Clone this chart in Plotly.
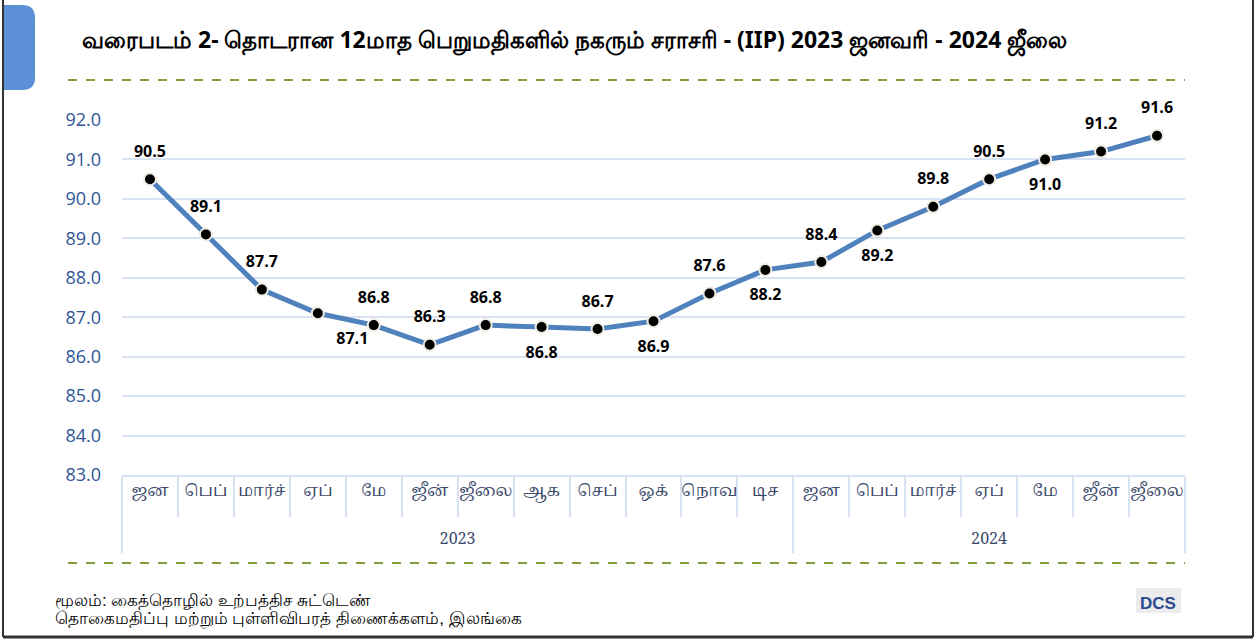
import plotly.graph_objects as go

years = ["2023"] * 12 + ["2024"] * 7
months = ["ஜன", "பெப்", "மார்ச்", "ஏப்", "மே", "ஜீன்", "ஜீலை", "ஆக", "செப்", "ஒக்", "நொவ", "டிச",
          "ஜன", "பெப்", "மார்ச்", "ஏப்", "மே", "ஜீன்", "ஜீலை"]
values = [90.5, 89.1, 87.7, 87.1, 86.8, 86.3, 86.8, 86.75, 86.7, 86.9, 87.6, 88.2,
          88.4, 89.2, 89.8, 90.5, 91.0, 91.2, 91.6]
labels = ["90.5", "89.1", "87.7", "87.1", "86.8", "86.3", "86.8", "86.8", "86.7", "86.9", "87.6", "88.2",
          "88.4", "89.2", "89.8", "90.5", "91.0", "91.2", "91.6"]
label_pos = ["top center", "top center", "top center", "bottom right", "top center", "top center",
             "top center", "bottom center", "top center", "bottom center", "top center", "bottom center",
             "top center", "bottom center", "top center", "top center", "bottom center", "top center",
             "top center"]
y_ticks = [83.0, 84.0, 85.0, 86.0, 87.0, 88.0, 89.0, 90.0, 91.0, 92.0]

title = "வரைபடம் 2- தொடரான 12மாத பெறுமதிகளில் நகரும் சராசரி - (IIP) 2023 ஜனவரி - 2024 ஜீலை"
source1 = "மூலம்: கைத்தொழில் உற்பத்திச சுட்டெண்"
source2 = "தொகைமதிப்பு மற்றும் புள்ளிவிபரத் திணைக்களம், இலங்கை"

W, H = 1256, 640
L, R, T, B = 122, 1185, 120, 475


def px(x):
    return (x - L) / (R - L)


def py(y):
    return (B - y) / (B - T)


# month labels padded with an empty second line so the year row sits lower
month_ticks = [m + "<br>&nbsp;" for m in months]
xcat = [years, month_ticks]

fig = go.Figure()
fig.add_trace(go.Scatter(
    x=xcat, y=values,
    mode="lines+markers",
    line=dict(color="#4F81BD", width=5),
    marker=dict(size=12, color="black", line=dict(color="#EEECE1", width=2)),
    cliponaxis=False,
    showlegend=False,
))
fig.add_trace(go.Scatter(
    x=xcat, y=values,
    mode="markers+text",
    marker=dict(size=28, color="rgba(0,0,0,0)"),
    text=labels, textposition=label_pos,
    textfont=dict(family="Open Sans, Arial", size=16, color="black", weight="bold"),
    cliponaxis=False,
    showlegend=False,
))

shapes = [
    dict(type="line", xref="paper", yref="paper", x0=px(68), x1=px(1185), y0=py(80), y1=py(80),
         line=dict(color="#7F9F3F", width=2, dash="dash")),
    dict(type="line", xref="paper", yref="paper", x0=px(68), x1=px(1185), y0=py(563), y1=py(563),
         line=dict(color="#7F9F3F", width=2, dash="dash")),
    dict(type="line", xref="paper", yref="paper", x0=px(3), x1=px(3), y0=py(0), y1=py(637),
         line=dict(color="#333333", width=2)),
    dict(type="line", xref="paper", yref="paper", x0=px(1253), x1=px(1253), y0=py(0), y1=py(637),
         line=dict(color="#333333", width=2)),
    dict(type="line", xref="paper", yref="paper", x0=px(3), x1=px(1253), y0=py(637), y1=py(637),
         line=dict(color="#333333", width=3)),
    dict(type="path", xref="paper", yref="paper",
         path=(f"M {px(4)},{py(5)} L {px(22)},{py(5)} Q {px(35)},{py(5)} {px(35)},{py(18)} "
               f"L {px(35)},{py(78)} Q {px(35)},{py(90)} {px(22)},{py(90)} L {px(4)},{py(90)} Z"),
         fillcolor="#5B8FD6", line=dict(width=0)),
    dict(type="rect", xref="paper", yref="paper", x0=px(1136), x1=px(1181), y0=py(588), y1=py(613),
         fillcolor="#ECECEC", line=dict(width=0)),
]

annotations = [
    dict(text=f"<b>{title}</b>", xref="paper", yref="paper", x=px(80), y=py(40),
         xanchor="left", yanchor="middle", showarrow=False,
         font=dict(family="Noto Sans, Arial", size=23, color="black")),
    dict(text=source1, xref="paper", yref="paper", x=px(53), y=py(601),
         xanchor="left", yanchor="middle", showarrow=False,
         font=dict(family="Arial", size=17, color="black")),
    dict(text=source2, xref="paper", yref="paper", x=px(53), y=py(619),
         xanchor="left", yanchor="middle", showarrow=False,
         font=dict(family="Arial", size=17, color="black")),
    dict(text="<b>DCS</b>", xref="paper", yref="paper", x=px(1158), y=py(603),
         xanchor="center", yanchor="middle", showarrow=False,
         font=dict(family="Arial", size=17, color="#2B4A8F")),
]

fig.update_layout(
    width=W, height=H,
    margin=dict(l=L, r=W - R, t=T, b=H - B),
    paper_bgcolor="white", plot_bgcolor="white",
    shapes=shapes, annotations=annotations,
    xaxis=dict(
        type="multicategory",
        range=[-0.5, len(months) - 0.5],
        showgrid=False,
        showline=True, linecolor="#D9E2F3", linewidth=2,
        ticks="outside", tickson="boundaries", ticklen=40, tickcolor="#D9E2F3", tickwidth=2,
        showdividers=True, dividercolor="#D9E2F3", dividerwidth=2,
        tickangle=0,
        tickfont=dict(family="Noto Serif Tamil, Liberation Serif", size=16, color="#3B4A6B"),
    ),
    yaxis=dict(
        range=[83, 92], tickvals=y_ticks, ticktext=[f"{v:.1f}" for v in y_ticks],
        showgrid=True, gridcolor="#D9E2F3", gridwidth=1.5,
        zeroline=False, showline=False,
        tickfont=dict(family="Open Sans, Arial", size=18, color="#2F5597"),
        ticks="", ticklabelstandoff=20,
    ),
)

fig.write_html("out.html", post_script="document.body.style.margin='0';",
               config={"displayModeBar": False})
